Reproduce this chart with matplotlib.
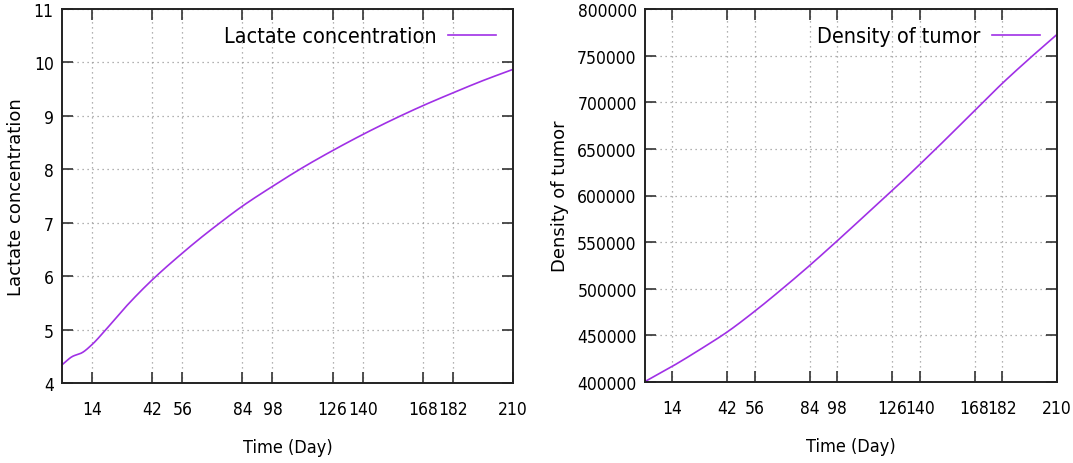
import matplotlib
matplotlib.use("Agg")
import matplotlib.pyplot as plt
from matplotlib import font_manager as fm
import numpy as np

days = [0, 5, 9, 14, 20, 30, 42, 56, 65, 72, 84, 98, 112, 126, 140, 154, 168, 182, 196, 210]
lactate = [4.34, 4.50, 4.56, 4.72, 4.98, 5.44, 5.93, 6.43, 6.73, 6.95, 7.31, 7.68, 8.03,
           8.35, 8.65, 8.93, 9.19, 9.43, 9.66, 9.87]

days_t = [0, 14, 28, 42, 56, 70, 84, 98, 112, 126, 140, 154, 168, 182, 196, 210]
tumor = [400500, 416900, 434800, 453800, 476000, 500000, 525100, 551400, 578300,
         605200, 633200, 661800, 691000, 720000, 746900, 772700]

xticks = [14, 42, 56, 84, 98, 126, 140, 168, 182, 210]
lac_yticks = [4, 5, 6, 7, 8, 9, 10, 11]
tum_yticks = [400000, 450000, 500000, 550000, 600000, 650000, 700000, 750000, 800000]


def find_condensed():
    best = None
    for f in fm.fontManager.ttflist:
        nm = (f.name + ' ' + f.fname).lower()
        cond = ('condensed' in nm or 'narrow' in nm or
                str(f.stretch).lower() in ('condensed', 'semi-condensed', 'extra-condensed'))
        if not cond:
            continue
        if f.style != 'normal':
            continue
        if 'bold' in nm or 'italic' in nm or 'oblique' in nm or 'light' in nm:
            continue
        score = 0
        if 'sans' in nm:
            score += 1
        if 'extra' in nm or 'semi' in nm:
            score -= 1
        if best is None or score > best[0]:
            best = (score, f.fname)
    return best[1] if best else None


cfile = find_condensed()
if cfile:
    def nfont(size):
        return fm.FontProperties(fname=cfile, size=size)
    tick_size, leg_size, xl_size = 12.5, 15.5, 13
else:
    def nfont(size):
        return fm.FontProperties(family='DejaVu Sans', size=size)
    tick_size, leg_size, xl_size = 10.5, 13, 11.5

color = '#a030e6'

fig = plt.figure(figsize=(10.73, 4.64), dpi=100)
ax1 = fig.add_axes([62/1073, 1-384/464, 451/1073, 374/464])
ax2 = fig.add_axes([645/1073, 1-383/464, 412/1073, 373/464])


def smooth(x, y):
    x = np.asarray(x, float); y = np.asarray(y, float)
    xs = np.linspace(x[0], x[-1], 500)
    h = np.diff(x); d = np.diff(y) / h
    m = np.zeros_like(y)
    for k in range(1, len(x)-1):
        if d[k-1]*d[k] > 0:
            w1 = 2*h[k] + h[k-1]; w2 = h[k] + 2*h[k-1]
            m[k] = (w1 + w2) / (w1/d[k-1] + w2/d[k])
    m[0] = d[0]; m[-1] = d[-1]
    idx = np.clip(np.searchsorted(x, xs) - 1, 0, len(x)-2)
    t = (xs - x[idx]) / h[idx]
    h00 = 2*t**3 - 3*t**2 + 1; h10 = t**3 - 2*t**2 + t
    h01 = -2*t**3 + 3*t**2; h11 = t**3 - t**2
    ys = h00*y[idx] + h10*h[idx]*m[idx] + h01*y[idx+1] + h11*h[idx]*m[idx+1]
    return xs, ys


for ax, x, y, yt, ylab in [
        (ax1, days, lactate, lac_yticks, 'Lactate concentration'),
        (ax2, days_t, tumor, tum_yticks, 'Density of tumor')]:
    xs, ys = smooth(x, y)
    ax.plot(xs, ys, color=color, lw=1.2, label=ylab)
    ax.set_xlim(0, 210)
    ax.set_ylim(yt[0], yt[-1])
    ax.set_xticks(xticks)
    ax.set_yticks(yt)
    ax.set_xticklabels([str(v) for v in xticks], fontproperties=nfont(tick_size))
    ax.set_yticklabels([str(v) for v in yt], fontproperties=nfont(tick_size))
    ax.tick_params(direction='in', length=8, width=1.2, top=True, right=True, pad=6, color='#333333')
    ax.tick_params(axis='x', pad=12)
    ax.grid(True, linestyle=(0, (1, 3)), color='#999999', lw=0.9)
    for s in ax.spines.values():
        s.set_linewidth(1.4)
        s.set_color('#222222')
    ax.set_xlabel('Time (Day)', fontproperties=nfont(xl_size), labelpad=15)
    ax.set_ylabel(ylab, family='DejaVu Sans', fontsize=13, labelpad=6)
    ax.legend(loc='upper right', frameon=False, markerfirst=False,
              prop=nfont(leg_size), handlelength=2.2,
              borderaxespad=0.4, handletextpad=0.55)

fig.savefig('out.png', dpi=100)
